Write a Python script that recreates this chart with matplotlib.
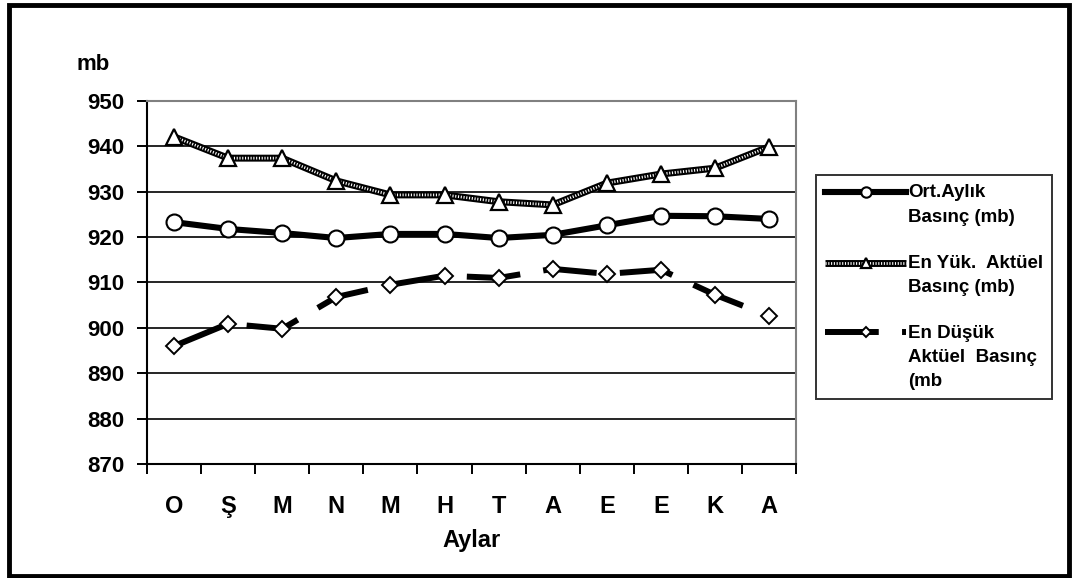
import matplotlib
matplotlib.use('Agg')
import matplotlib.pyplot as plt
from matplotlib.patches import Rectangle
from matplotlib.legend_handler import HandlerLine2D, HandlerTuple
from matplotlib.ticker import FixedLocator

plt.rcParams['font.family'] = ['Liberation Sans', 'DejaVu Sans']
plt.rcParams['font.weight'] = 'bold'

# data
aylar = ['O', 'Ş', 'M', 'N', 'M', 'H', 'T', 'A', 'E', 'E', 'K', 'A']
ort = [923.3, 921.8, 920.9, 919.8, 920.7, 920.7, 919.8, 920.5, 922.6, 924.7, 924.6, 924.0]
en_yuk = [942.1, 937.4, 937.4, 932.4, 929.3, 929.3, 927.8, 927.1, 931.9, 933.9, 935.2, 939.9]
en_dusuk = [896.0, 900.9, 899.8, 906.8, 909.5, 911.5, 911.0, 913.0, 911.9, 912.8, 907.3, 902.6]

lbl_ort = 'Ort.Aylık\nBasınç (mb)'
lbl_yuk = 'En Yük.  Aktüel\nBasınç (mb)'
lbl_dus = 'En Düşük\nAktüel  Basınç\n(mb'


class TopLine(HandlerLine2D):
    # put the handle next to the first text line
    def __init__(self, shift, **kw):
        super().__init__(**kw)
        self.shift = shift

    def create_artists(self, legend, orig_handle, xdescent, ydescent, width,
                       height, fontsize, trans):
        return super().create_artists(legend, orig_handle, xdescent,
                                      ydescent - 2 * self.shift * fontsize,
                                      width, height, fontsize, trans)


class TopTuple(HandlerTuple):
    def __init__(self, shift, **kw):
        super().__init__(**kw)
        self.shift = shift

    def create_artists(self, legend, orig_handle, xdescent, ydescent, width,
                       height, fontsize, trans):
        return super().create_artists(legend, orig_handle, xdescent,
                                      ydescent - 2 * self.shift * fontsize,
                                      width, height, fontsize, trans)


fig = plt.figure(figsize=(10.73, 5.78), dpi=100)
ax = fig.add_axes([0.137, 0.1972, 0.605, 0.6281])

x = list(range(len(aylar)))

l_ort, = ax.plot(x, ort, color='black', lw=4.4, marker='o', ms=11.5,
                 mfc='white', mec='black', mew=1.5, zorder=5)

l_yuk_a, = ax.plot(x, en_yuk, color='black', lw=5.0, zorder=4,
                   solid_capstyle='butt')
l_yuk_b, = ax.plot(x, en_yuk, color='white', lw=2.0, zorder=4,
                   linestyle=(0, (0.4, 0.6)))
l_yuk_m, = ax.plot(x, en_yuk, linestyle='none', marker='^', ms=11.5,
                   mfc='white', mec='black', mew=1.6, zorder=6)

l_dus, = ax.plot(x, en_dusuk, color='black', lw=4.3,
                 linestyle=(0, (9.0, 3.9)), marker='D', ms=8.3,
                 mfc='white', mec='black', mew=1.4, zorder=5)

ax.set_xlim(-0.5, len(aylar) - 0.5)
ax.set_ylim(870, 950)
ax.set_yticks(range(870, 951, 10))
ax.yaxis.grid(True, color='black', lw=1.2)
ax.set_axisbelow(True)

ax.set_xticks(x)
ax.set_xticklabels(aylar, fontsize=17, fontweight='bold')
ax.xaxis.set_minor_locator(FixedLocator([i - 0.5 for i in range(len(aylar) + 1)]))
ax.tick_params(axis='x', which='major', length=0, pad=22)
ax.tick_params(axis='x', which='minor', length=7, width=1.4, direction='out')
ax.tick_params(axis='y', length=7, width=1.4, direction='out', pad=9,
               labelsize=16)
for t in ax.get_yticklabels():
    t.set_fontweight('bold')

for s in ['left', 'bottom']:
    ax.spines[s].set_linewidth(1.5)
    ax.spines[s].set_color('black')
for s in ['top', 'right']:
    ax.spines[s].set_linewidth(1.5)
    ax.spines[s].set_color('#808080')

ax.set_xlabel('Aylar', fontsize=17, fontweight='bold', labelpad=8)
fig.text(0.0867, 0.888, 'mb', fontsize=16, fontweight='bold',
         ha='center', va='center')

leg = fig.legend([l_ort, (l_yuk_a, l_yuk_b, l_yuk_m), l_dus],
                 [lbl_ort, lbl_yuk, lbl_dus],
                 loc='upper left', bbox_to_anchor=(0.7605, 0.6972),
                 bbox_transform=fig.transFigure, borderaxespad=0,
                 prop={'size': 13.5, 'weight': 'bold'},
                 handlelength=4.3, handletextpad=0.1, borderpad=0.5,
                 labelspacing=1.55, markerscale=0.65, fancybox=False,
                 frameon=True, edgecolor='black',
                 handler_map={l_ort: TopLine(0.67), l_dus: TopLine(1.33),
                              tuple: TopTuple(0.67, ndivide=1, pad=0)})
leg.get_frame().set_linewidth(1.4)
for t in leg.get_texts():
    t.set_linespacing(1.55)

fig.add_artist(Rectangle((0.008, 0.004), 0.988, 0.988, transform=fig.transFigure,
                         fill=False, edgecolor='black', lw=3.5))

fig.savefig('out.png', dpi=100)
